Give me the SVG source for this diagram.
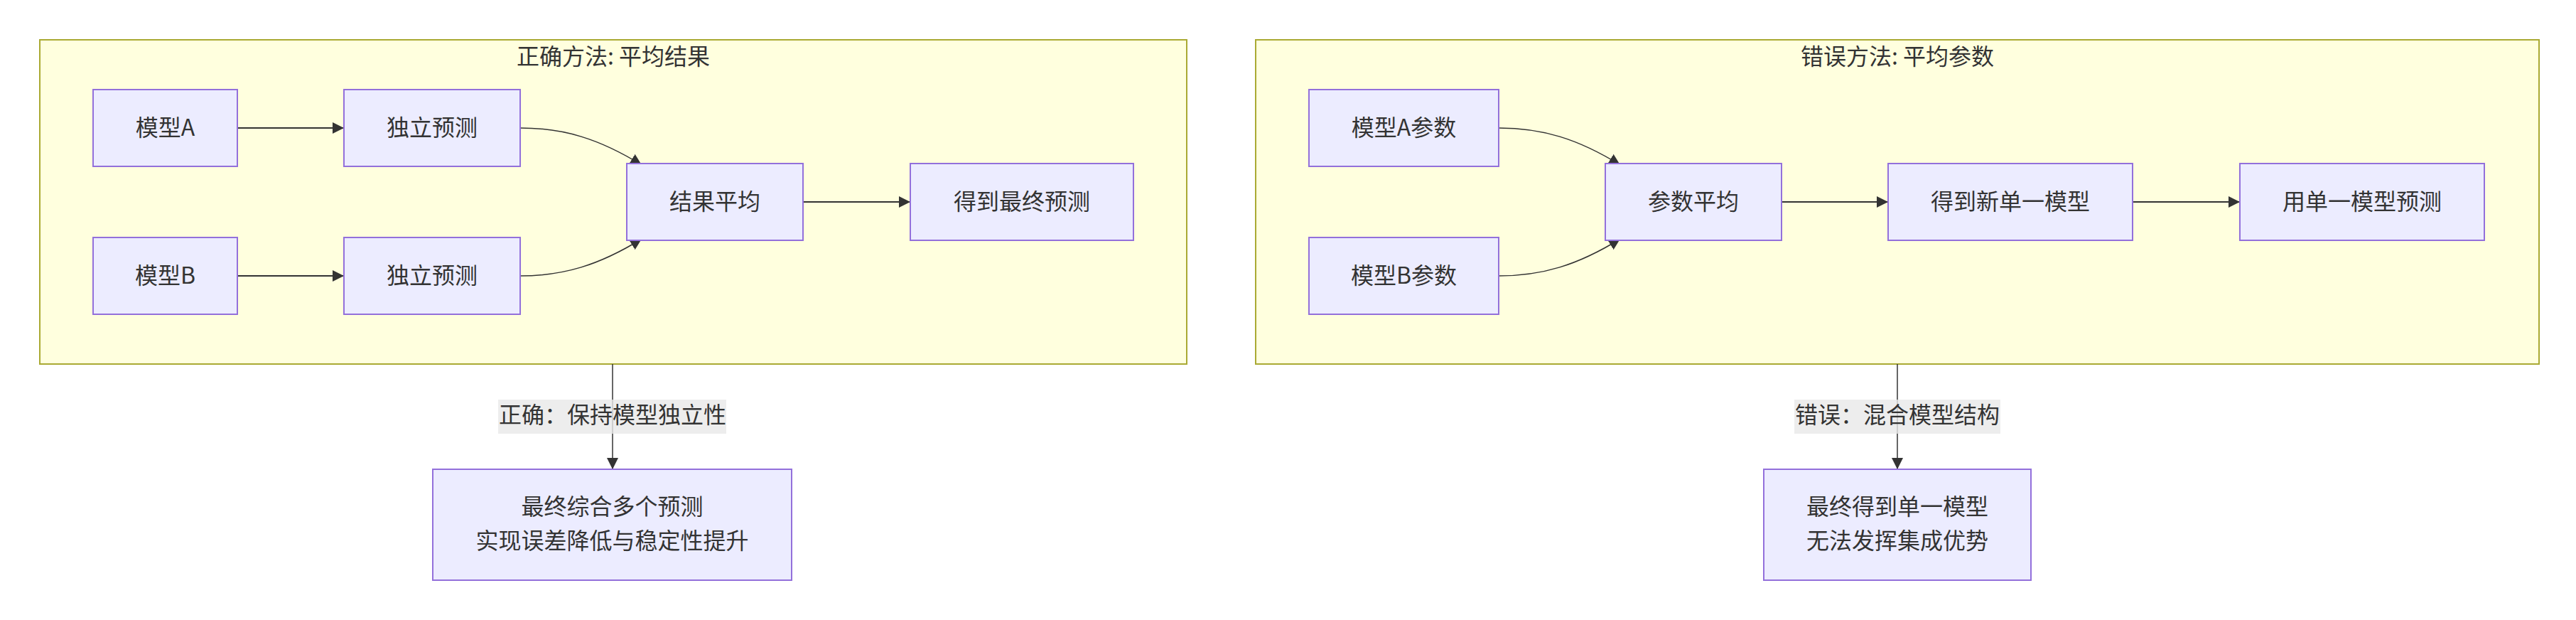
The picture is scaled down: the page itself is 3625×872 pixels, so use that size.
<svg xmlns="http://www.w3.org/2000/svg" width="3625" height="872" viewBox="0 0 3625 872">
<style>
text{font-family:"Noto Sans CJK SC","Noto Sans",sans-serif;font-size:32px;fill:#333333;text-anchor:middle}
.cluster{fill:#ffffde;stroke:#aaaa33;stroke-width:2}
.node{fill:#ECECFF;stroke:#9370DB;stroke-width:2}
.edge{fill:none;stroke:#333333;stroke-width:2}
.thin{stroke-width:1.5}
.lbl{fill:#e8e8e8;opacity:0.8}
</style>
<defs>
<marker id="arrow" viewBox="0 0 10 10" refX="10" refY="5" markerUnits="userSpaceOnUse" markerWidth="16" markerHeight="16" orient="auto">
<path d="M0,0 L10,5 L0,10 z" fill="#333333"/>
</marker>
</defs>
<g id="cluster-correct">
<rect class="cluster" x="56" y="56" width="1614" height="456"/>
<text x="863" y="91">正确方法: 平均结果</text>
</g>
<g id="cluster-wrong">
<rect class="cluster" x="1767" y="56" width="1806" height="456"/>
<text x="2670" y="91">错误方法: 平均参数</text>
</g>
<g id="connectors">
<path class="edge" d="M334,180 L484,180" marker-end="url(#arrow)"/>
<path class="edge" d="M334,388 L484,388" marker-end="url(#arrow)"/>
<path class="edge thin" d="M732,180 C793,180 843,195 903,232" marker-end="url(#arrow)"/>
<path class="edge thin" d="M732,388 C793,388 843,373 903,336" marker-end="url(#arrow)"/>
<path class="edge" d="M1130,284 L1281,284" marker-end="url(#arrow)"/>
<path class="edge thin" d="M862,512 L862,660" marker-end="url(#arrow)"/>
<rect class="lbl" x="701" y="562" width="321" height="48"/>
<text x="862" y="595">正确：保持模型独立性</text>
<path class="edge thin" d="M2109,180 C2170,180 2220,195 2280,232" marker-end="url(#arrow)"/>
<path class="edge thin" d="M2109,388 C2170,388 2220,373 2280,336" marker-end="url(#arrow)"/>
<path class="edge" d="M2507,284 L2657,284" marker-end="url(#arrow)"/>
<path class="edge" d="M3001,284 L3152,284" marker-end="url(#arrow)"/>
<path class="edge thin" d="M2670,512 L2670,660" marker-end="url(#arrow)"/>
<rect class="lbl" x="2525" y="562" width="290" height="48"/>
<text x="2670" y="595">错误：混合模型结构</text>
</g>
<g id="node-modelA">
<rect class="node" x="131" y="126" width="203" height="108"/>
<text x="232.5" y="191">模型A</text>
</g>
<g id="node-modelB">
<rect class="node" x="131" y="334" width="203" height="108"/>
<text x="232.5" y="399">模型B</text>
</g>
<g id="node-predA">
<rect class="node" x="484" y="126" width="248" height="108"/>
<text x="608" y="191">独立预测</text>
</g>
<g id="node-predB">
<rect class="node" x="484" y="334" width="248" height="108"/>
<text x="608" y="399">独立预测</text>
</g>
<g id="node-avgResult">
<rect class="node" x="882" y="230" width="248" height="108"/>
<text x="1006" y="295">结果平均</text>
</g>
<g id="node-finalPred">
<rect class="node" x="1281" y="230" width="314" height="108"/>
<text x="1438" y="295">得到最终预测</text>
</g>
<g id="node-correctOutcome">
<rect class="node" x="609" y="660" width="505" height="156"/>
<text x="861.5" y="724">最终综合多个预测</text>
<text x="861.5" y="772">实现误差降低与稳定性提升</text>
</g>
<g id="node-paramA">
<rect class="node" x="1842" y="126" width="267" height="108"/>
<text x="1975.5" y="191">模型A参数</text>
</g>
<g id="node-paramB">
<rect class="node" x="1842" y="334" width="267" height="108"/>
<text x="1975.5" y="399">模型B参数</text>
</g>
<g id="node-avgParam">
<rect class="node" x="2259" y="230" width="248" height="108"/>
<text x="2383" y="295">参数平均</text>
</g>
<g id="node-newModel">
<rect class="node" x="2657" y="230" width="344" height="108"/>
<text x="2829" y="295">得到新单一模型</text>
</g>
<g id="node-singlePred">
<rect class="node" x="3152" y="230" width="344" height="108"/>
<text x="3324" y="295">用单一模型预测</text>
</g>
<g id="node-wrongOutcome">
<rect class="node" x="2482" y="660" width="376" height="156"/>
<text x="2670" y="724">最终得到单一模型</text>
<text x="2670" y="772">无法发挥集成优势</text>
</g>
</svg>
